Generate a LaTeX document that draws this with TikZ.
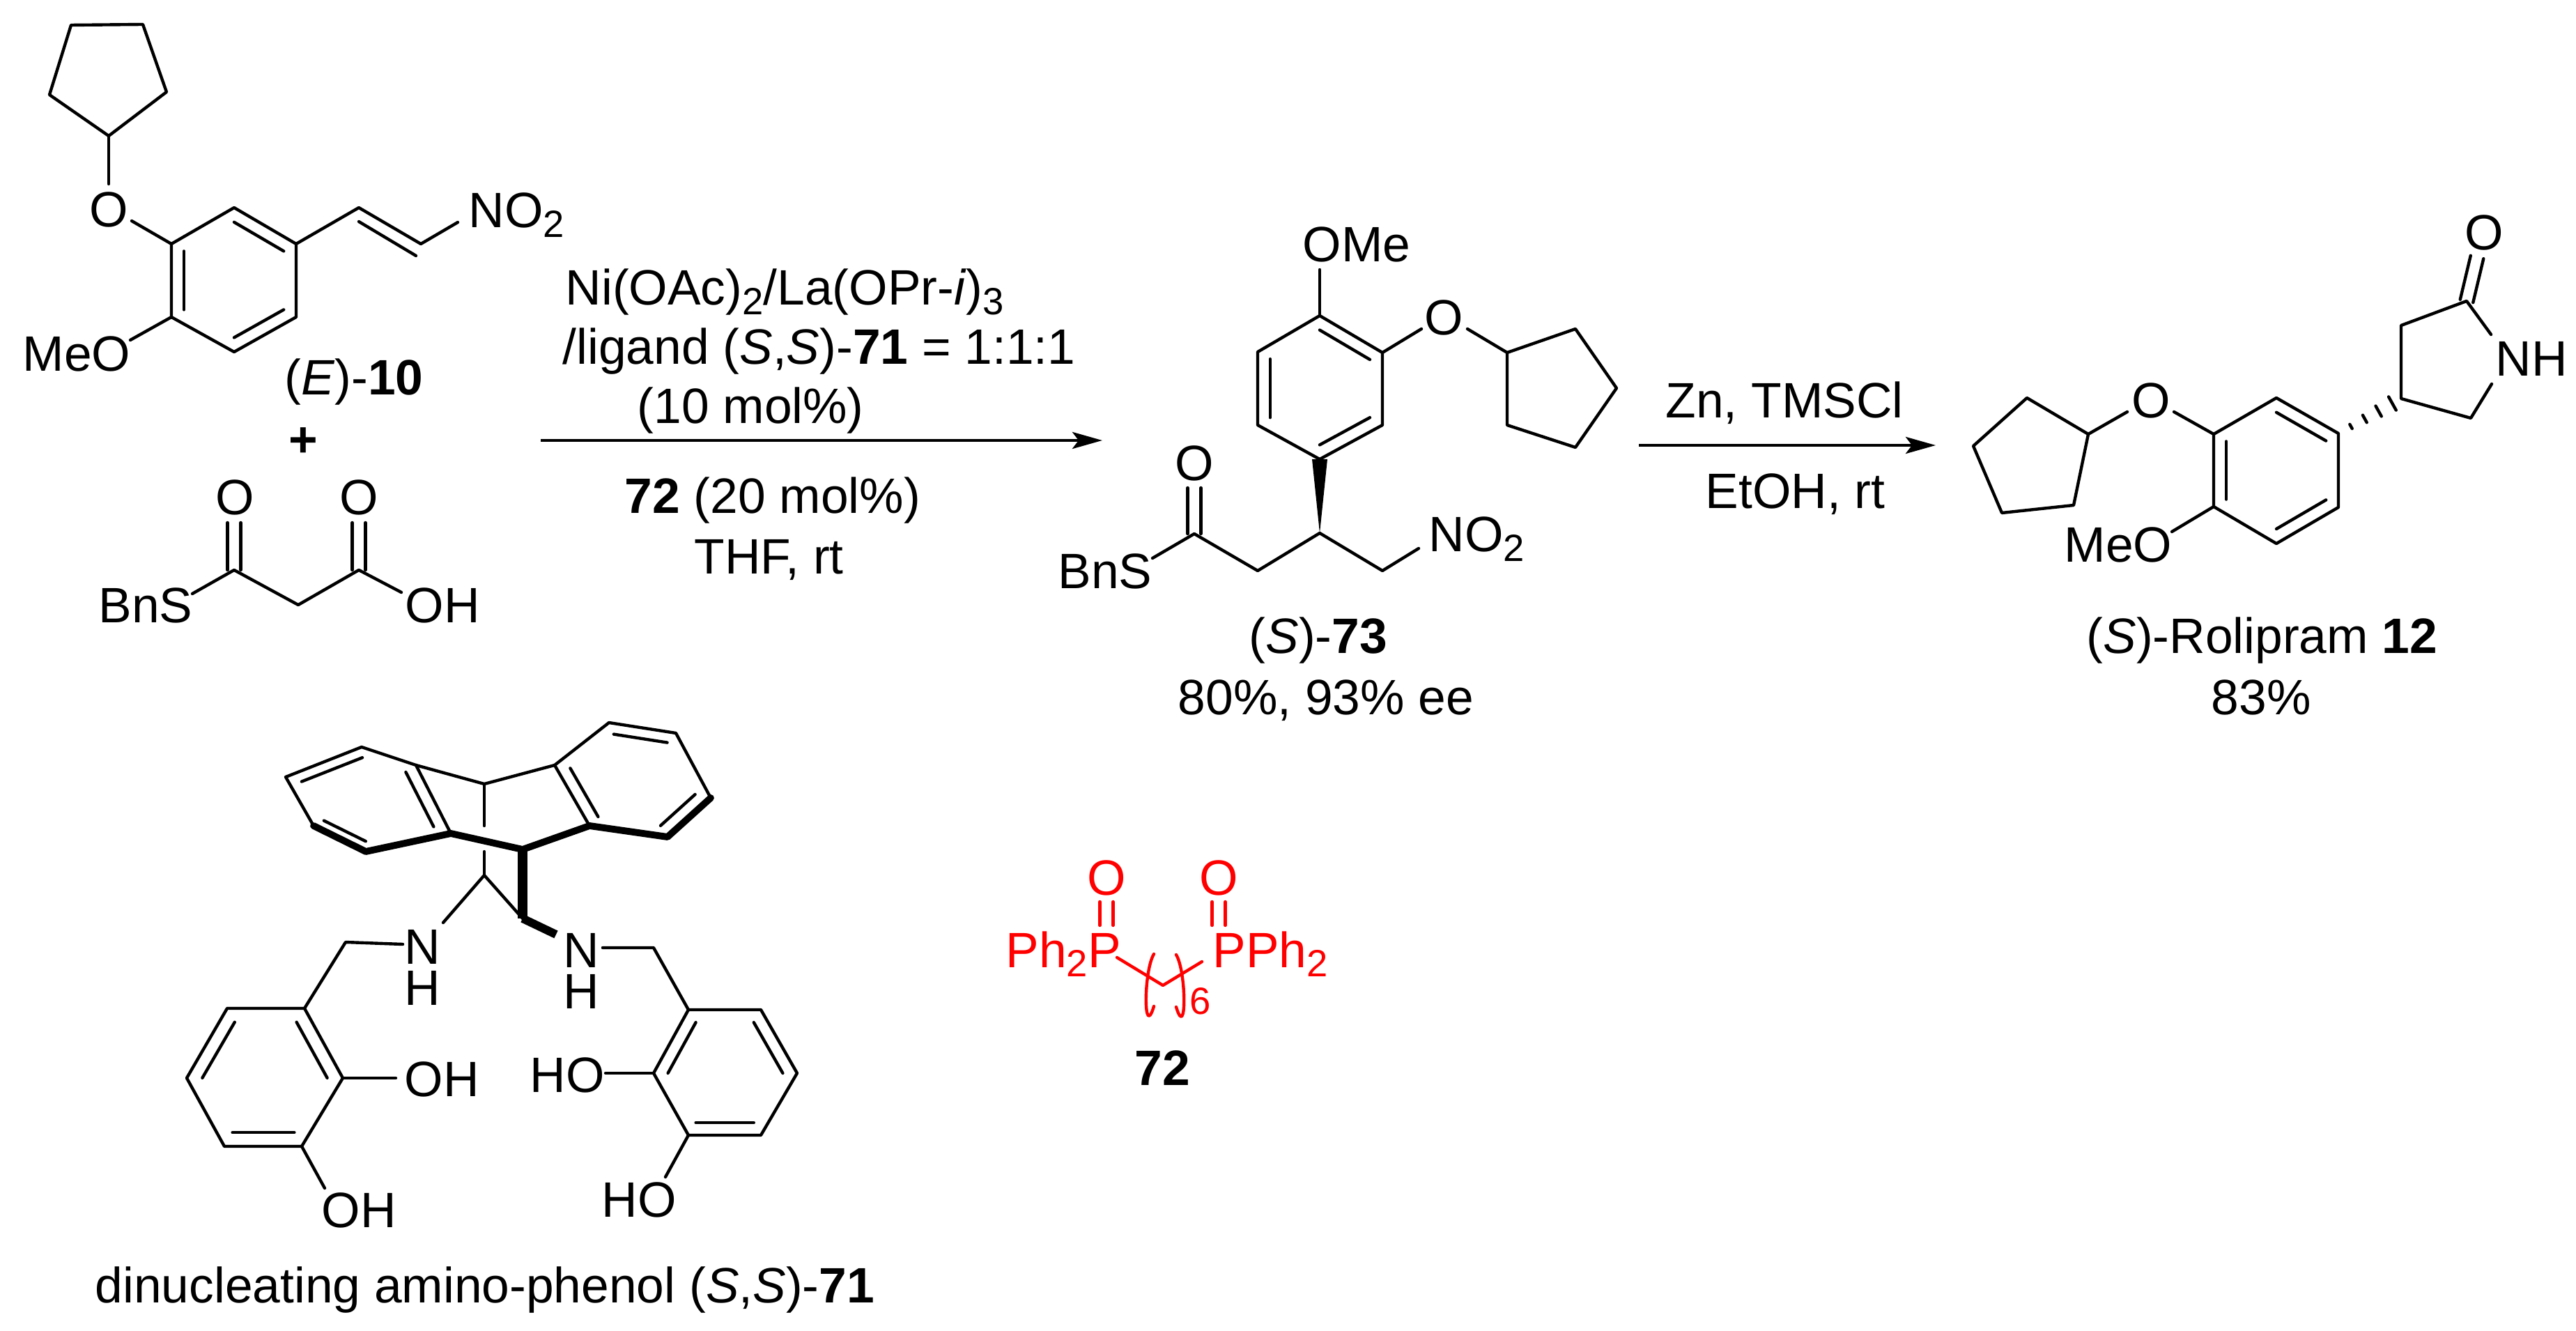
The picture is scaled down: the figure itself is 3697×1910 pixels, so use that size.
\documentclass[tikz,border=0pt]{standalone}
\usepackage{fontspec}
\setmainfont{Liberation Sans}
\usetikzlibrary{calc, arrows.meta}

\newcommand{\chemsub}[1]{\raisebox{-0.19em}{\fontsize{15.5}{15.5}\selectfont #1}}
\newcommand{\inbond}[3]{\draw[bond] ($(#1)!0.2!(#3)$) -- ($(#2)!0.2!(#3)$);}
\newcommand{\twobond}[2]{
  \draw[bond] ($(#1)!0.95mm!90:(#2)$) -- ($(#2)!0.95mm!-90:(#1)$);
  \draw[bond] ($(#1)!0.95mm!-90:(#2)$) -- ($(#2)!0.95mm!90:(#1)$);
}

\tikzset{
  bond/.style={line width=1.25pt, line cap=round, line join=round},
  boldbond/.style={line width=2.8pt, line cap=round, line join=round},
  lbl/.style={anchor=base west, inner sep=0pt, font=\fontsize{20.3}{24}\selectfont},
  atom/.style={lbl, anchor=base},
  rxnarrow/.style={line width=1.3pt, -{Stealth[length=4.3mm, width=2.4mm, inset=0.9mm]}}
}

\begin{document}
\begin{tikzpicture}[x=0.1mm, y=-0.1mm]
  \useasboundingbox (0,0) rectangle (3697,1910);

  % Nitrostyrene 10
  \foreach \n/\x/\y in {cpa/102/36, cpb/205/35, cpc/239/132, cpd/156/195, cpe/71/136, oa/156/264,
      ra/336/298, rb/425/350, rc/425/455, rd/336/505, re/246/455, rf/246/350, rm/336/402,
      ob/189/317, oc/187/488, va/515/298, vb/604/350, vc/657/319, vd/515/318, ve/597/367}
    \coordinate (\n) at (\x,\y);
  \draw[bond] (cpa) -- (cpb) -- (cpc) -- (cpd) -- (cpe) -- cycle;
  \draw[bond] (cpd) -- (oa);
  \draw[bond] (ra) -- (rb) -- (rc) -- (rd) -- (re) -- (rf) -- cycle;
  \inbond{ra}{rb}{rm} \inbond{rc}{rd}{rm} \inbond{re}{rf}{rm}
  \draw[bond] (ob) -- (rf);
  \draw[bond] (oc) -- (re);
  \draw[bond] (rb) -- (va) -- (vb) -- (vc);
  \draw[bond] (vd) -- (ve);
  \node[atom] (o10) at (156,326) {O};
  \node[lbl] (meo10) at (32,533) {MeO};
  \node[lbl] (no10) at (672,327) {NO\chemsub{2}};
  \node[lbl] (name10) at (408,567) {(\textit{E})-\textbf{10}};
  \node[lbl, anchor=center] (plus) at (435,635) {\textbf{+}};

  % Malonic acid half thioester
  \foreach \n/\x/\y in {sa/276/852, ca/336/818, cb/428/868, cc/515/818, cd/576/850, oe/336/750, of/515/750}
    \coordinate (\n) at (\x,\y);
  \draw[bond] (sa) -- (ca) -- (cb) -- (cc) -- (cd);
  \twobond{ca}{oe}
  \twobond{cc}{of}
  \node[lbl] (bns) at (141,894) {BnS};
  \node[lbl] (oh) at (581,894) {OH};
  \node[atom] (oca) at (337,739) {O};
  \node[atom] (occ) at (515,739) {O};

  % First arrow
  \coordinate (arra) at (776,632);
  \coordinate (arrb) at (1582,632);
  \draw[rxnarrow] (arra) -- (arrb);
  \node[lbl] (reaa) at (811,438) {Ni(OAc)\chemsub{2}/La(OPr-\textit{i})\chemsub{3}};
  \node[lbl] (reab) at (807,523) {/ligand (\textit{S},\textit{S})-\textbf{71} = 1:1:1};
  \node[lbl] (reac) at (914,608) {(10 mol\%)};
  \node[lbl] (read) at (896,737) {\textbf{72} (20 mol\%)};
  \node[lbl] (reae) at (996,824) {THF, rt};

  % Adduct 73
  \foreach \n/\x/\y in {ma/1894/453, mb/1984/506, mc/1984/610, md/1894/659, me/1805/610, mf/1805/505, mm/1894/556,
      mo/1894/387, mp/2040/472, mq/2106/472, mr/2163/506, ms/2261/472, mt/2320/557, mu/2261/642, mv/2163/610,
      wa/1883/659, wb/1905/659, wc/1894/765, na/1805/819, nb/1714/766, nc/1654/801, nd/1714/700,
      ne/1984/819, nf/2036/787}
    \coordinate (\n) at (\x,\y);
  \draw[bond] (ma) -- (mb) -- (mc) -- (md) -- (me) -- (mf) -- cycle;
  \inbond{ma}{mb}{mm} \inbond{mc}{md}{mm} \inbond{me}{mf}{mm}
  \draw[bond] (mo) -- (ma);
  \draw[bond] (mb) -- (mp);
  \draw[bond] (mr) -- (ms) -- (mt) -- (mu) -- (mv) -- cycle;
  \draw[bond] (mq) -- (mr);
  \fill (wa) -- (wb) -- (wc) -- cycle;
  \draw[bond] (nc) -- (nb) -- (na) -- (wc) -- (ne) -- (nf);
  \twobond{nb}{nd}
  \node[lbl] (ome73) at (1869,376) {OMe};
  \node[atom] (o73) at (2072,481) {O};
  \node[atom] (oc73) at (1714,690) {O};
  \node[lbl] (bns73) at (1518,845) {BnS};
  \node[lbl] (no73) at (2050,792) {NO\chemsub{2}};
  \node[lbl] (name73) at (1792,937) {(\textit{S})-\textbf{73}};
  \node[lbl] (yield73) at (1690,1025) {80\%, 93\% ee};

  % Second arrow
  \coordinate (arrc) at (2352,639);
  \coordinate (arrd) at (2778,639);
  \draw[rxnarrow] (arrc) -- (arrd);
  \node[lbl] (reaf) at (2390,600) {Zn, TMSCl};
  \node[lbl] (reag) at (2447,730) {EtOH, rt};

  % Rolipram 12
  \foreach \n/\x/\y in {pa/2909/571, pb/2997/623, pc/2976/725, pd/2873/736, pe/2832/640, pf/3053/591, pg/3120/591,
      qa/3267/571, qb/3356/622, qc/3356/728, qd/3267/780, qe/3177/727, qf/3177/623, qm/3267/675, qo/3117/763,
      ha/3446/572, hb/3446/467, hc/3540/432, hd/3575/480, he/3576/551, hf/3546/600, hg/3555/369}
    \coordinate (\n) at (\x,\y);
  \draw[bond] (pa) -- (pb) -- (pc) -- (pd) -- (pe) -- cycle;
  \draw[bond] (pb) -- (pf);
  \draw[bond] (pg) -- (qf);
  \draw[bond] (qa) -- (qb) -- (qc) -- (qd) -- (qe) -- (qf) -- cycle;
  \inbond{qa}{qb}{qm} \inbond{qc}{qd}{qm} \inbond{qe}{qf}{qm}
  \draw[bond] (qe) -- (qo);
  \foreach \t/\w in {0.2/0.35mm, 0.42/0.6mm, 0.64/0.85mm, 0.86/1.1mm}
    \draw[bond] ($(qb)!\t!(ha)!\w!90:(ha)$) -- ($(qb)!\t!(ha)!\w!-90:(ha)$);
  \draw[bond] (he) -- (hf) -- (ha) -- (hb) -- (hc) -- (hd);
  \twobond{hc}{hg}
  \node[atom] (o12) at (3087,600) {O};
  \node[lbl] (meo12) at (2962,807) {MeO};
  \node[lbl] (nh12) at (3581,540) {NH};
  \node[atom] (oc12) at (3565,359) {O};
  \node[lbl] (name12) at (2994,937) {(\textit{S})-Rolipram \textbf{12}};
  \node[lbl] (yield12) at (3173,1025) {83\%};

  % Ligand 71, anthracene part
  \foreach \n/\x/\y in {aa/519/1072, ab/410/1115, ac/450/1185, ad/525/1222, ae/647/1196, af/597/1098, ag/524/1148,
      ba/796/1098, bb/874/1037, bc/970/1052, bd/1020/1145, be/958/1201, bf/846/1185, bg/908/1120,
      ta/695/1125, tb/695/1185, tc/750/1219, td/695/1222, te/695/1256}
    \coordinate (\n) at (\x,\y);
  \draw[bond] (ae) -- (af) -- (aa) -- (ab) -- (ac);
  \inbond{aa}{ab}{ag} \inbond{ac}{ad}{ag} \inbond{ae}{af}{ag}
  \draw[bond] (af) -- (ta) -- (ba) -- (bb) -- (bc) -- (bd);
  \draw[bond] (ba) -- (bf);
  \inbond{ba}{bf}{bg} \inbond{bb}{bc}{bg} \inbond{bd}{be}{bg}
  \draw[bond] (ta) -- (tb);
  \draw[bond] (td) -- (te);
  \draw[boldbond] (ac) -- (ad) -- (ae) -- (tc) -- (bf) -- (be) -- (bd);

  % Ligand 71, arms
  \foreach \n/\x/\y in {ua/636/1324, ub/750/1318, uc/798/1341, ud/578/1355, ue/496/1352,
      ka/437/1447, kb/326/1447, kc/268/1547, kd/322/1645, ke/433/1645, kf/492/1547, kg/380/1546, kh/568/1547, ki/466/1705,
      lk/865/1360, ll/938/1360, la/988/1449, lb/1092/1449, lc/1144/1540, ld/1092/1629, le/988/1629, lf/938/1540,
      lg/1041/1540, lh/869/1540, li/955/1689}
    \coordinate (\n) at (\x,\y);
  \draw[bond] (ua) -- (te) -- (ub);
  \draw[line width=4pt] (tc) -- (ub);
  \draw[line width=3.4pt] (ub) -- (uc);
  \draw[bond] (ud) -- (ue) -- (ka);
  \draw[bond] (ka) -- (kb) -- (kc) -- (kd) -- (ke) -- (kf) -- cycle;
  \inbond{ka}{kf}{kg} \inbond{kb}{kc}{kg} \inbond{kd}{ke}{kg}
  \draw[bond] (kf) -- (kh);
  \draw[bond] (ke) -- (ki);
  \draw[bond] (lk) -- (ll) -- (la);
  \draw[bond] (la) -- (lb) -- (lc) -- (ld) -- (le) -- (lf) -- cycle;
  \inbond{la}{lf}{lg} \inbond{lb}{lc}{lg} \inbond{ld}{le}{lg}
  \draw[bond] (lf) -- (lh);
  \draw[bond] (le) -- (li);
  \node[atom] (na71) at (606,1383) {N};
  \node[atom] (ha71) at (606,1442) {H};
  \node[atom] (nb71) at (834,1388) {N};
  \node[atom] (hb71) at (834,1447) {H};
  \node[lbl] (oha71) at (580,1573) {OH};
  \node[lbl] (ohb71) at (461,1761) {OH};
  \node[lbl] (hoa71) at (760,1567) {HO};
  \node[lbl] (hob71) at (863,1746) {HO};
  \node[lbl] (name71) at (136,1869) {dinucleating amino-phenol (\textit{S},\textit{S})-\textbf{71}};

  % Bisphosphine oxide 72
  \begin{scope}[red]
    \foreach \n/\x/\y in {xa/1603/1374, xb/1669/1414, xc/1725/1380, xd/1588/1328, xe/1588/1294, xf/1749/1328, xg/1749/1294,
        ya/1656/1369, yb/1656/1444, yc/1688/1370, yd/1688/1445}
      \coordinate (\n) at (\x,\y);
    \draw[bond] (xa) -- (xb) -- (xc);
    \twobond{xd}{xe}
    \twobond{xf}{xg}
    \draw[bond] (ya) .. controls +(-15,25) and +(-15,50) .. (yb);
    \draw[bond] (yc) .. controls +(15,25) and +(15,50) .. (yd);
    \node[lbl] (phl) at (1443,1388) {Ph\chemsub{2}P};
    \node[lbl] (phr) at (1740,1388) {PPh\chemsub{2}};
    \node[atom] (ol) at (1588,1284) {O};
    \node[atom] (or) at (1749,1284) {O};
    \node[lbl, font=\fontsize{15.5}{15.5}\selectfont] (six) at (1707,1455) {6};
  \end{scope}
  \node[lbl] (name72) at (1628,1557) {\textbf{72}};
\end{tikzpicture}
\end{document}
